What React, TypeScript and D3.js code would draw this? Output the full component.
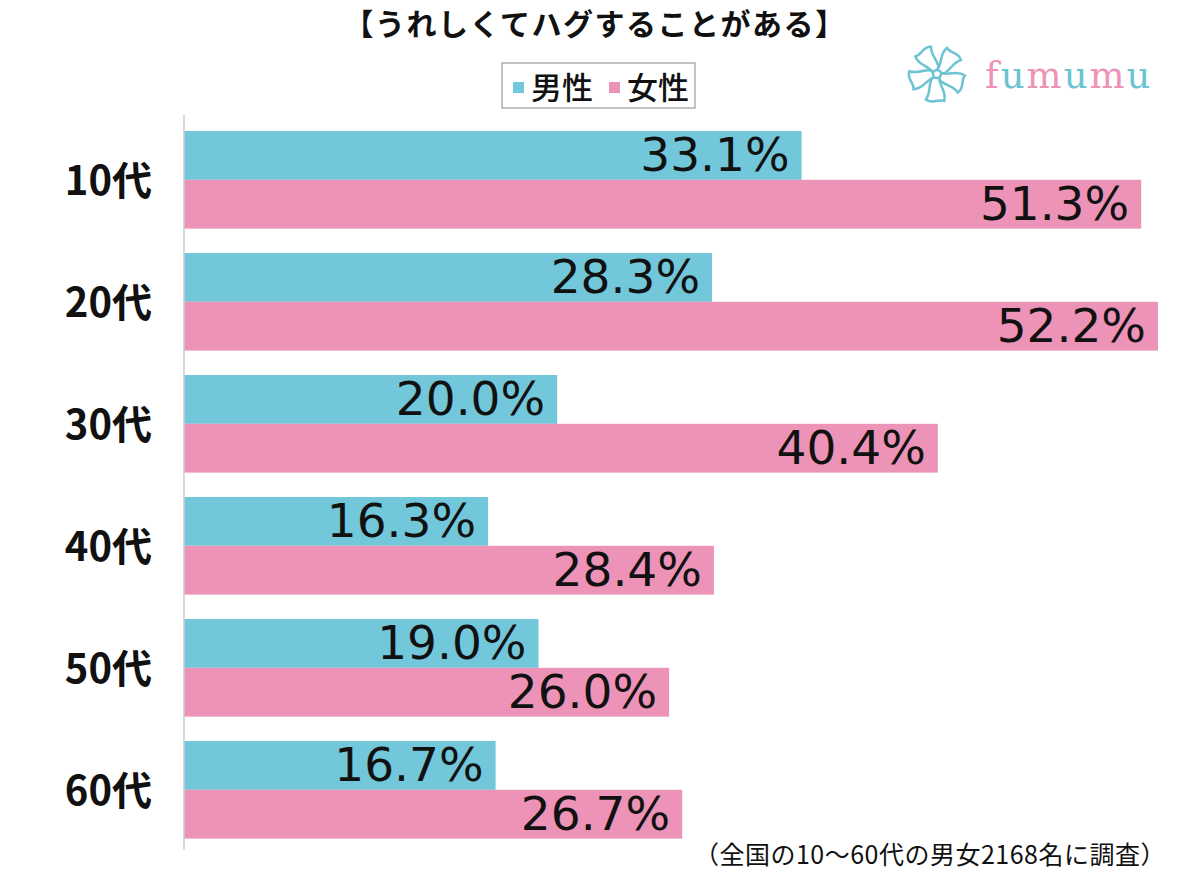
import React from "react";
import * as d3 from "d3";

const categories = ["10代", "20代", "30代", "40代", "50代", "60代"];
const maleValues = [33.1, 28.3, 20.0, 16.3, 19.0, 16.7];
const femaleValues = [51.3, 52.2, 40.4, 28.4, 26.0, 26.7];
const seriesNames = ["男性", "女性"];
const title = "【うれしくてハグすることがある】";
const footnote = "（全国の10〜60代の男女2168名に調査）";

const W = 1200;
const H = 870;
const COLORS = ["#72C7DA", "#EE93B8"];
const FONT = "'Noto Sans CJK JP', 'Noto Sans', sans-serif";

export default function App() {
  const x0 = 184;
  const x = d3.scaleLinear().domain([0, 52.2]).range([x0, 1158]);
  const y = d3.scaleBand().domain(categories).range([118.8, 850.8]).paddingInner(0.2).paddingOuter(0.1);
  const inner = d3.scaleBand().domain(seriesNames).range([0, y.bandwidth()]);
  const series = [maleValues, femaleValues];

  const petals = d3.range(5).map((i) => i * 72);

  return (
    <svg width={W} height={H} style={{ position: "absolute", left: 0, top: 0, background: "#fff" }} fontFamily={FONT}>
      <rect width={W} height={H} fill="#fff" />
      <text x={595} y={35} textAnchor="middle" fontSize={30} fontWeight={700} letterSpacing={1.5} fill="#111">{title}</text>

      {/* legend */}
      <rect x={502} y={63} width={193} height={45} fill="#fff" stroke="#888" strokeWidth={1} />
      {seriesNames.map((s, i) => (
        <g key={s} transform={`translate(${513 + i * 96},0)`}>
          <rect x={0} y={82} width={11} height={11} fill={COLORS[i]} />
          <text x={18} y={99} fontSize={31} fontWeight={500} fill="#111">{s}</text>
        </g>
      ))}

      {/* logo */}
      <g transform="translate(937,74)" fill="none" stroke="#6CC3D2" strokeWidth={2.5}>
        {petals.map((a) => (
          <path key={a} transform={`rotate(${a})`} d="M0,-4 C6,-12 2,-20 10,-26 C14,-20 22,-22 24,-14 C16,-12 14,-4 6,0" />
        ))}
        <circle r={4} />
      </g>
      <text x={985} y={88} fontSize={37} fontFamily="'DejaVu Serif', 'Liberation Serif', serif" letterSpacing={2}>
        {"fumumu".split("").map((c, i) => (
          <tspan key={i} fill={i % 2 === 0 ? "#EE93B8" : "#6CC3D2"}>{c}</tspan>
        ))}
      </text>

      {/* bars */}
      {categories.map((c, ci) => (
        <g key={c}>
          {series.map((vals, si) => {
            const yy = (y(c) as number) + (inner(seriesNames[si]) as number);
            const h = inner.bandwidth();
            const xe = x(vals[ci]);
            return (
              <g key={si}>
                <rect x={x0} y={yy} width={xe - x0} height={h} fill={COLORS[si]} />
                <text x={xe - 12} y={yy + h - 9} textAnchor="end" fontSize={47} fontFamily="'DejaVu Sans', sans-serif" fill="#111">
                  {vals[ci].toFixed(1)}%
                </text>
              </g>
            );
          })}
          <text x={152} y={(y(c) as number) + y.bandwidth() / 2 + 15} textAnchor="end" fontSize={40} fontWeight={700} fill="#111">{c}</text>
        </g>
      ))}

      <line x1={x0} x2={x0} y1={115} y2={850} stroke="#ccc" strokeWidth={1.5} />

      <text x={1166} y={864} textAnchor="end" fontSize={25} letterSpacing={0.5} fill="#111">{footnote}</text>
    </svg>
  );
}
